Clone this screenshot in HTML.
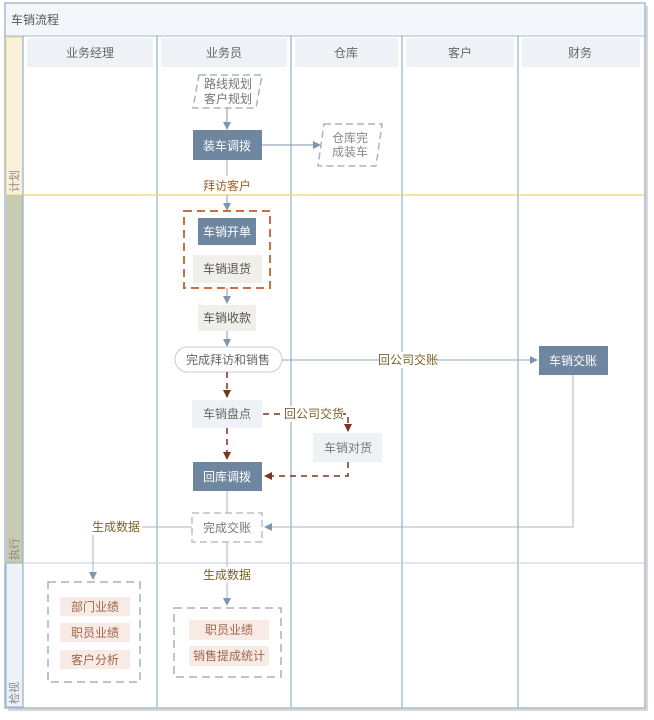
<!DOCTYPE html>
<html><head><meta charset="utf-8"><style>
html,body{margin:0;padding:0;background:#fff;}
svg{display:block;}
text{font-family:"Liberation Sans","Noto Sans CJK SC",sans-serif;}
</style></head><body>
<svg width="654" height="720" viewBox="0 0 654 720" xmlns="http://www.w3.org/2000/svg">
<defs>
<marker id="ab" markerWidth="8" markerHeight="8" refX="7" refY="4" orient="auto" markerUnits="userSpaceOnUse"><path d="M0,0 L8,4 L0,8 z" fill="#7f97ae"/></marker>
<marker id="ar" markerWidth="8" markerHeight="8" refX="7" refY="4" orient="auto" markerUnits="userSpaceOnUse"><path d="M0,0 L8,4 L0,8 z" fill="#7a3420"/></marker>
</defs>
<!-- shadow -->
<rect x="8" y="6" width="640" height="705" fill="#d8d8d8"/>
<rect x="5" y="3" width="640" height="705" fill="#fff" stroke="#a9bccd" stroke-width="1.5"/>
<!-- title -->
<rect x="6" y="4" width="638" height="32" fill="#f3f6fa"/>
<line x1="5" y1="36" x2="645" y2="36" stroke="#a9bccd"/>
<text x="11" y="24" font-size="12" fill="#555">车销流程</text>
<!-- left strip -->
<rect x="6" y="37" width="17" height="158" fill="#f8f0d8" stroke="#f0d890"/>
<rect x="6" y="195" width="17" height="368" fill="#c7cbb2"/>
<rect x="6" y="563" width="17" height="144" fill="#edf2f8" stroke="#8fb0cc"/>
<text transform="translate(18,192) rotate(-90)" font-size="11" fill="#888">计划</text>
<text transform="translate(18,560) rotate(-90)" font-size="11" fill="#888">执行</text>
<text transform="translate(18,704) rotate(-90)" font-size="11" fill="#888">检视</text>
<!-- header cells -->
<rect x="27" y="38" width="126" height="29" fill="#eef2f6"/>
<rect x="161" y="38" width="126" height="29" fill="#eef2f6"/>
<rect x="295" y="38" width="103" height="29" fill="#eef2f6"/>
<rect x="406" y="38" width="108" height="29" fill="#eef2f6"/>
<rect x="522" y="38" width="118" height="29" fill="#eef2f6"/>
<g font-size="12" fill="#666" text-anchor="middle">
<text x="90" y="57">业务经理</text><text x="224" y="57">业务员</text><text x="346" y="57">仓库</text><text x="460" y="57">客户</text><text x="580" y="57">财务</text>
</g>
<!-- column lines -->
<g stroke="#8fb0cc" stroke-width="1.2">
<line x1="157" y1="36" x2="157" y2="707"/><line x1="291" y1="36" x2="291" y2="707"/>
<line x1="402" y1="36" x2="402" y2="707"/><line x1="518" y1="36" x2="518" y2="707"/>
<line x1="23" y1="36" x2="23" y2="707"/>
</g>
<line x1="23" y1="195" x2="644" y2="195" stroke="#f0d27a" stroke-width="1.2"/>
<line x1="23" y1="563" x2="644" y2="563" stroke="#d0d8e0" stroke-width="1.2"/>

<!-- plan -->
<polygon points="199,75 262,75 256,108 193,108" fill="#fff" stroke="#aab4be" stroke-dasharray="7,4" stroke-width="1.5"/>
<g font-size="12" fill="#777" text-anchor="middle"><text x="228" y="88">路线规划</text><text x="228" y="103">客户规划</text></g>
<line x1="227" y1="108" x2="227" y2="129" stroke="#7f97ae" marker-end="url(#ab)"/>
<rect x="193" y="130" width="69" height="30" fill="#6f86a0"/>
<text x="227" y="150" font-size="12" fill="#fff" text-anchor="middle">装车调拨</text>
<line x1="262" y1="145" x2="320" y2="145" stroke="#7f97ae" marker-end="url(#ab)"/>
<polygon points="324,124 382,124 376,166 318,166" fill="#fff" stroke="#aab4be" stroke-dasharray="7,4" stroke-width="1.5"/>
<g font-size="12" fill="#888" text-anchor="middle"><text x="350" y="142">仓库完</text><text x="350" y="156">成装车</text></g>
<line x1="227" y1="160" x2="227" y2="176" stroke="#aab"/>
<text x="227" y="190" font-size="12" fill="#a0622a" text-anchor="middle">拜访客户</text>
<line x1="227" y1="195" x2="227" y2="210" stroke="#7f97ae" marker-end="url(#ab)"/>

<!-- execute -->
<rect x="184" y="211" width="86" height="77" fill="none" stroke="#c8703f" stroke-width="2" stroke-dasharray="8,5"/>
<rect x="198" y="218" width="58" height="27" fill="#6f86a0"/>
<text x="227" y="236" font-size="12" fill="#fff" text-anchor="middle">车销开单</text>
<rect x="193" y="255" width="69" height="28" fill="#f0efea"/>
<text x="227" y="273" font-size="12" fill="#555" text-anchor="middle">车销退货</text>
<line x1="227" y1="288" x2="227" y2="303" stroke="#7f97ae" marker-end="url(#ab)"/>
<rect x="198" y="305" width="58" height="26" fill="#f0efea"/>
<text x="227" y="322" font-size="12" fill="#555" text-anchor="middle">车销收款</text>
<line x1="227" y1="331" x2="227" y2="346" stroke="#7f97ae" marker-end="url(#ab)"/>
<rect x="175" y="347" width="107" height="25" rx="12.5" fill="#fff" stroke="#c8ccd0"/>
<text x="228" y="364" font-size="12" fill="#666" text-anchor="middle">完成拜访和销售</text>
<line x1="282" y1="360" x2="537" y2="360" stroke="#8fa3b5" marker-end="url(#ab)"/>
<rect x="380" y="352" width="56" height="16" fill="#fff"/>
<text x="408" y="364" font-size="12" fill="#7a6228" text-anchor="middle">回公司交账</text>
<rect x="539" y="346" width="69" height="29" fill="#6f86a0"/>
<text x="573" y="365" font-size="12" fill="#fff" text-anchor="middle">车销交账</text>

<g stroke="#7a3420" stroke-width="1.5" stroke-dasharray="6,5" fill="none">
<line x1="227" y1="372" x2="227" y2="397" marker-end="url(#ar)"/>
<polyline points="263,414 348,414 348,431" marker-end="url(#ar)"/>
<line x1="227" y1="428" x2="227" y2="459" marker-end="url(#ar)"/>
<polyline points="348,462 348,476 265,476" marker-end="url(#ar)"/>
</g>
<rect x="192" y="400" width="70" height="28" fill="#eef2f6"/>
<text x="227" y="418" font-size="12" fill="#666" text-anchor="middle">车销盘点</text>
<rect x="285" y="406" width="58" height="16" fill="#fff"/>
<text x="314" y="418" font-size="12" fill="#7a6228" text-anchor="middle">回公司交货</text>
<rect x="313" y="433" width="69" height="29" fill="#eef2f6"/>
<text x="348" y="452" font-size="12" fill="#777" text-anchor="middle">车销对货</text>
<rect x="193" y="462" width="69" height="29" fill="#6f86a0"/>
<text x="227" y="481" font-size="12" fill="#fff" text-anchor="middle">回库调拨</text>
<line x1="227" y1="491" x2="227" y2="513" stroke="#aab4be"/>
<rect x="192" y="513" width="70" height="29" fill="#fff" stroke="#b8c0c8" stroke-width="1.5" stroke-dasharray="7,4"/>
<text x="227" y="532" font-size="12" fill="#777" text-anchor="middle">完成交账</text>
<polyline points="573,375 573,527 265,527" fill="none" stroke="#aab4be" marker-end="url(#ab)"/>
<polyline points="192,527 93,527 93,579" fill="none" stroke="#aab4be" marker-end="url(#ab)"/>
<rect x="90" y="519" width="52" height="16" fill="#fff"/>
<text x="116" y="531" font-size="12" fill="#7a6228" text-anchor="middle">生成数据</text>
<line x1="227" y1="542" x2="227" y2="605" stroke="#aab4be" marker-end="url(#ab)"/>
<rect x="201" y="567" width="52" height="16" fill="#fff"/>
<text x="227" y="579" font-size="12" fill="#7a6228" text-anchor="middle">生成数据</text>

<!-- review -->
<rect x="48" y="582" width="92" height="100" fill="none" stroke="#aab0b6" stroke-width="1.5" stroke-dasharray="8,5"/>
<g fill="#f8ebe6"><rect x="60" y="597" width="70" height="19"/><rect x="60" y="623" width="70" height="19"/><rect x="60" y="650" width="70" height="19"/></g>
<g font-size="12" fill="#a0664a" text-anchor="middle"><text x="95" y="611">部门业绩</text><text x="95" y="637">职员业绩</text><text x="95" y="664">客户分析</text></g>
<rect x="174" y="608" width="107" height="69" fill="none" stroke="#aab0b6" stroke-width="1.5" stroke-dasharray="8,5"/>
<g fill="#f8ebe6"><rect x="189" y="620" width="80" height="20"/><rect x="189" y="646" width="80" height="20"/></g>
<g font-size="12" fill="#a0664a" text-anchor="middle"><text x="229" y="634">职员业绩</text><text x="229" y="660">销售提成统计</text></g>
</svg>
</body></html>
